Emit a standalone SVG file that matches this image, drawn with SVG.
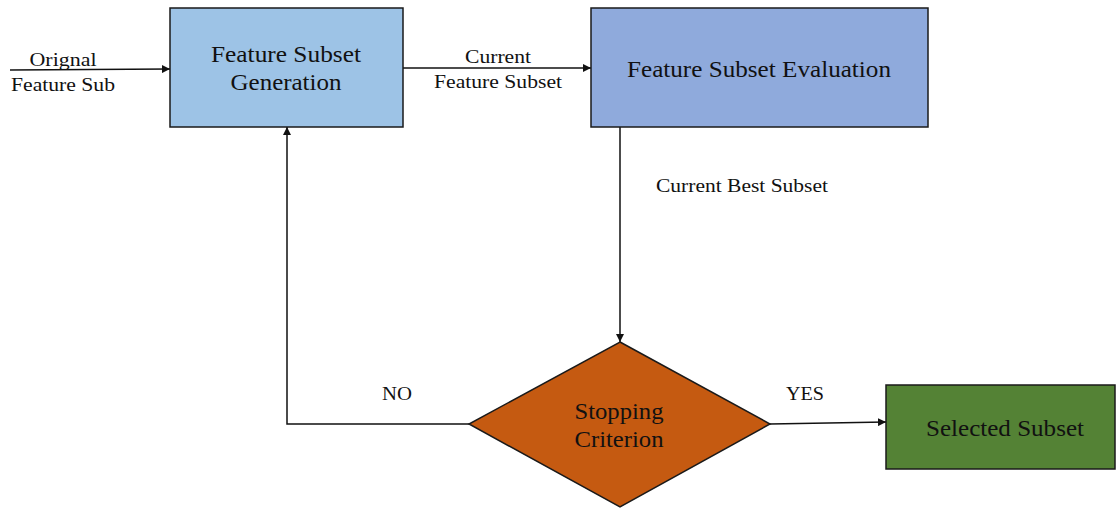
<svg xmlns="http://www.w3.org/2000/svg" width="1117" height="510" viewBox="0 0 1117 510">
<style>
.box{stroke:#1a1a1a;stroke-width:1.5}
.t{font-family:"Liberation Serif","Times New Roman",serif;fill:#111;text-anchor:middle}
.big{font-size:24px}
.lbl{font-size:19.5px}
.c{stroke:#111;stroke-width:1.5;fill:none}
</style>
<defs>
<marker id="ah" viewBox="0 0 10 10" refX="10" refY="5" markerWidth="8" markerHeight="8" markerUnits="userSpaceOnUse" orient="auto">
<path d="M0,0 L10,5 L0,10 z" fill="#111"/>
</marker>
</defs>
<rect width="1117" height="510" fill="#fff"/>
<g id="connectors">
<path class="c" d="M10,70 L170,69" marker-end="url(#ah)"/>
<path class="c" d="M403,68 L591,68" marker-end="url(#ah)"/>
<path class="c" d="M620,127 L620,342" marker-end="url(#ah)"/>
<path class="c" d="M469,424 L287,424 L287,127" marker-end="url(#ah)"/>
<path class="c" d="M770,424 L886,422" marker-end="url(#ah)"/>
<text class="t lbl" x="63" y="66" textLength="67" lengthAdjust="spacingAndGlyphs">Orignal</text>
<text class="t lbl" x="63" y="91" textLength="104" lengthAdjust="spacingAndGlyphs">Feature Sub</text>
<text class="t lbl" x="498" y="63" textLength="66" lengthAdjust="spacingAndGlyphs">Current</text>
<text class="t lbl" x="498" y="88" textLength="128" lengthAdjust="spacingAndGlyphs">Feature Subset</text>
<text class="t lbl" x="742" y="192" textLength="172" lengthAdjust="spacingAndGlyphs">Current Best Subset</text>
<text class="t lbl" x="397" y="400" textLength="30" lengthAdjust="spacingAndGlyphs">NO</text>
<text class="t lbl" x="805" y="400" textLength="38" lengthAdjust="spacingAndGlyphs">YES</text>
</g>
<g id="node-generation">
<rect class="box" x="170" y="8" width="233" height="119" fill="#9DC3E6"/>
<text class="t big" x="286" y="62" textLength="150" lengthAdjust="spacingAndGlyphs">Feature Subset</text>
<text class="t big" x="286" y="90" textLength="111" lengthAdjust="spacingAndGlyphs">Generation</text>
</g>
<g id="node-evaluation">
<rect class="box" x="591" y="8" width="337" height="119" fill="#8FAADC"/>
<text class="t big" x="759" y="77" textLength="264" lengthAdjust="spacingAndGlyphs">Feature Subset Evaluation</text>
</g>
<g id="node-stopping">
<polygon class="box" points="620,342 770,424 620,507 469,424" fill="#C55A11"/>
<text class="t big" x="619" y="419" textLength="89" lengthAdjust="spacingAndGlyphs">Stopping</text>
<text class="t big" x="619" y="447" textLength="89" lengthAdjust="spacingAndGlyphs">Criterion</text>
</g>
<g id="node-selected">
<rect class="box" x="886" y="385" width="229" height="84" fill="#548235"/>
<text class="t big" x="1005" y="436" textLength="158" lengthAdjust="spacingAndGlyphs">Selected Subset</text>
</g>
</svg>
